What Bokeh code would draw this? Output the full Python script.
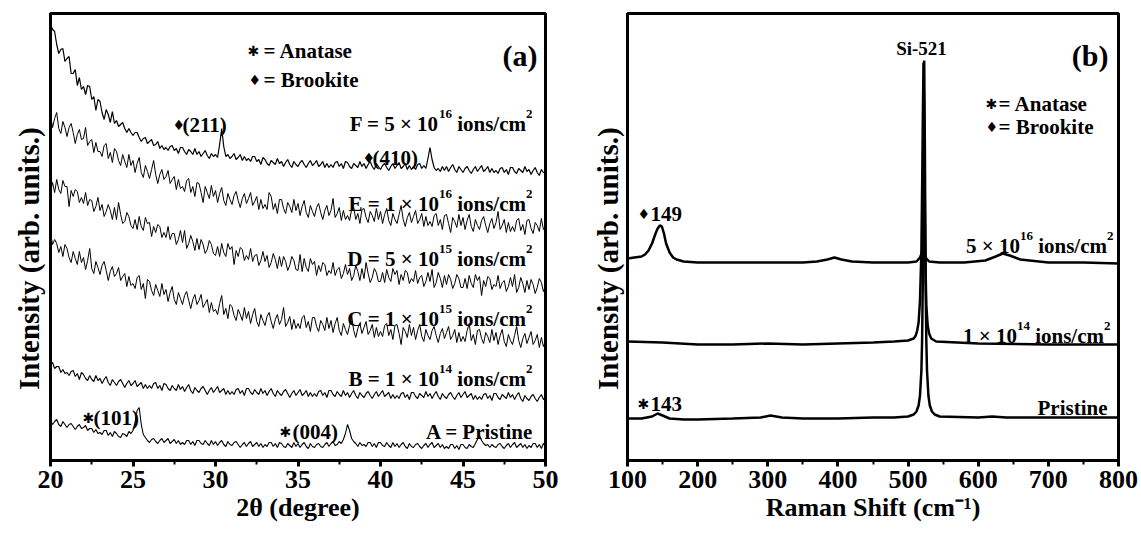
import numpy as np
from bokeh.plotting import figure
from bokeh.layouts import row
from bokeh.models import Label, FixedTicker, Range1d
from bokeh.embed import file_html
from bokeh.resources import INLINE

# ---------------- (a) XRD data : 2theta grid 20..50, step 0.125 (one row per degree) ----------------
two_theta = np.linspace(20, 50, 241)

xrd_F = [436, 431, 429, 416, 407, 411, 412, 399,
         402, 404, 387, 387, 391, 375, 383, 371,
         374, 366, 375, 374, 361, 364, 350, 361,
         359, 348, 341, 351, 346, 338, 349, 337,
         340, 334, 336, 338, 332, 328, 332, 328,
         325, 328, 328, 323, 319, 322, 323, 317,
         319, 321, 315, 316, 319, 312, 315, 311,
         313, 310, 314, 315, 310, 312, 307, 313,
         313, 309, 306, 311, 309, 306, 312, 306,
         309, 304, 307, 310, 305, 302, 307, 304,
         306, 303, 316, 332, 314, 304, 306, 302,
         304, 307, 301, 303, 306, 300, 304, 300,
         302, 299, 304, 304, 299, 301, 296, 303,
         301, 297, 295, 300, 298, 296, 302, 297,
         299, 294, 298, 301, 296, 293, 299, 296,
         294, 298, 300, 296, 293, 297, 300, 295,
         297, 300, 294, 296, 299, 293, 297, 293,
         296, 293, 298, 299, 294, 297, 292, 299,
         298, 294, 292, 297, 295, 293, 299, 294,
         297, 292, 296, 299, 294, 291, 297, 294,
         291, 295, 297, 293, 290, 294, 297, 292,
         295, 298, 292, 294, 297, 291, 295, 291,
         294, 291, 296, 297, 292, 295, 292, 302,
         313, 301, 293, 290, 292, 289, 294, 290,
         294, 289, 293, 296, 291, 288, 294, 291,
         288, 292, 294, 290, 287, 291, 294, 289,
         292, 295, 289, 291, 294, 288, 292, 288,
         290, 287, 292, 293, 288, 291, 286, 293,
         293, 289, 287, 292, 290, 288, 294, 289,
         291, 286, 290, 293, 288, 285, 291, 288,
         288]
xrd_E = [345, 333, 342, 348, 332, 327, 339, 333,
         324, 333, 337, 328, 317, 326, 331, 321,
         322, 333, 315, 319, 321, 308, 318, 309,
         309, 304, 315, 317, 302, 308, 298, 312,
         309, 300, 295, 306, 299, 293, 306, 295,
         300, 288, 297, 303, 288, 283, 295, 289,
         282, 291, 300, 286, 277, 286, 291, 281,
         284, 290, 277, 281, 284, 271, 281, 272,
         274, 269, 280, 282, 268, 274, 264, 278,
         277, 268, 258, 274, 268, 262, 275, 264,
         270, 258, 267, 273, 260, 255, 267, 261,
         256, 265, 269, 260, 253, 262, 267, 257,
         262, 268, 255, 259, 264, 251, 261, 252,
         256, 251, 268, 264, 251, 257, 247, 261,
         261, 252, 247, 258, 254, 248, 261, 250,
         257, 245, 254, 260, 248, 243, 255, 249,
         244, 253, 257, 248, 241, 250, 255, 245,
         250, 262, 243, 247, 253, 240, 250, 241,
         245, 240, 251, 253, 241, 247, 237, 251,
         252, 243, 238, 249, 245, 239, 252, 241,
         249, 237, 246, 252, 240, 235, 247, 241,
         237, 246, 255, 241, 234, 243, 248, 238,
         244, 250, 237, 241, 247, 234, 244, 235,
         239, 234, 245, 247, 235, 241, 231, 245,
         246, 237, 228, 243, 239, 233, 246, 235,
         243, 231, 240, 246, 234, 229, 241, 235,
         231, 240, 244, 235, 228, 237, 242, 232,
         238, 249, 231, 235, 241, 228, 238, 229,
         234, 229, 240, 242, 230, 236, 226, 240,
         241, 232, 227, 238, 235, 229, 242, 231,
         234]
xrd_D = [269, 278, 268, 281, 271, 267, 280, 274,
         274, 254, 270, 264, 271, 269, 258, 263,
         257, 268, 255, 261, 260, 249, 254, 263,
         250, 256, 244, 249, 256, 250, 241, 253,
         241, 258, 246, 237, 239, 248, 244, 235,
         232, 241, 231, 244, 234, 230, 243, 237,
         238, 224, 234, 228, 236, 234, 223, 228,
         223, 234, 221, 227, 227, 216, 221, 230,
         218, 230, 212, 217, 225, 219, 210, 222,
         211, 221, 216, 207, 211, 220, 216, 207,
         205, 214, 204, 217, 208, 204, 217, 211,
         214, 196, 210, 204, 213, 211, 200, 205,
         201, 212, 199, 205, 206, 195, 200, 209,
         199, 205, 193, 198, 207, 201, 192, 204,
         194, 204, 199, 190, 195, 204, 200, 191,
         190, 206, 189, 202, 193, 189, 202, 196,
         199, 185, 195, 189, 198, 196, 185, 190,
         187, 198, 185, 191, 193, 182, 187, 196,
         186, 192, 180, 185, 195, 189, 180, 192,
         182, 198, 187, 178, 183, 192, 188, 179,
         179, 188, 178, 191, 183, 179, 192, 186,
         190, 176, 186, 180, 190, 188, 177, 182,
         179, 190, 177, 183, 185, 174, 179, 188,
         179, 191, 173, 178, 188, 182, 173, 185,
         176, 186, 181, 172, 177, 186, 182, 173,
         173, 182, 172, 185, 177, 173, 186, 180,
         184, 165, 180, 174, 184, 182, 171, 176,
         174, 185, 172, 178, 180, 169, 174, 183,
         174, 186, 168, 173, 183, 177, 168, 180,
         171, 181, 176, 167, 173, 182, 178, 169,
         175]
xrd_C = [227, 216, 221, 217, 208, 214, 204, 216,
         212, 203, 198, 209, 202, 196, 209, 198,
         203, 191, 200, 212, 192, 187, 199, 193,
         186, 195, 199, 190, 180, 189, 194, 184,
         187, 193, 180, 184, 187, 174, 184, 175,
         177, 172, 183, 185, 171, 177, 162, 181,
         179, 170, 165, 176, 170, 164, 177, 166,
         171, 159, 168, 174, 161, 156, 168, 162,
         156, 165, 169, 160, 152, 161, 166, 156,
         160, 166, 153, 157, 161, 148, 158, 149,
         151, 146, 157, 165, 146, 152, 142, 156,
         154, 145, 140, 151, 146, 140, 153, 142,
         149, 137, 146, 152, 139, 134, 146, 140,
         135, 144, 148, 139, 132, 141, 146, 136,
         141, 153, 134, 138, 144, 131, 141, 132,
         137, 132, 143, 145, 133, 139, 129, 143,
         143, 134, 129, 140, 136, 130, 143, 132,
         140, 128, 137, 143, 130, 125, 137, 131,
         126, 135, 145, 130, 123, 132, 137, 127,
         133, 139, 126, 130, 136, 123, 133, 124,
         129, 124, 135, 137, 125, 131, 121, 135,
         136, 127, 116, 133, 129, 123, 136, 125,
         133, 121, 130, 136, 124, 119, 131, 125,
         121, 130, 134, 125, 118, 127, 132, 122,
         128, 134, 121, 125, 131, 118, 128, 119,
         124, 119, 130, 137, 120, 126, 116, 130,
         131, 122, 117, 128, 124, 118, 131, 120,
         128, 116, 125, 131, 119, 114, 126, 120,
         116, 125, 134, 120, 113, 122, 127, 117,
         123, 129, 116, 120, 126, 113, 123, 114,
         120]
xrd_B = [96, 98, 92, 94, 94, 88, 91, 87,
         88, 85, 89, 90, 84, 87, 81, 88,
         86, 82, 80, 85, 81, 79, 85, 80,
         82, 77, 81, 84, 78, 75, 81, 78,
         75, 79, 81, 77, 73, 77, 80, 75,
         77, 80, 74, 76, 78, 72, 76, 72,
         75, 72, 77, 78, 72, 75, 70, 77,
         76, 72, 70, 75, 72, 70, 76, 71,
         74, 69, 73, 76, 70, 67, 73, 70,
         68, 72, 74, 70, 66, 70, 73, 68,
         71, 74, 68, 70, 72, 66, 70, 66,
         69, 66, 71, 72, 67, 70, 65, 72,
         72, 68, 66, 71, 68, 66, 72, 67,
         70, 65, 69, 72, 67, 64, 70, 67,
         65, 69, 71, 67, 63, 67, 70, 65,
         68, 71, 65, 67, 70, 64, 68, 64,
         67, 64, 69, 70, 65, 68, 63, 70,
         70, 66, 64, 69, 66, 64, 70, 65,
         68, 63, 67, 70, 65, 62, 68, 65,
         63, 67, 69, 65, 62, 66, 69, 64,
         67, 70, 64, 66, 68, 62, 66, 62,
         65, 62, 67, 68, 63, 66, 61, 68,
         68, 64, 62, 67, 65, 63, 69, 64,
         67, 62, 66, 69, 64, 61, 67, 64,
         62, 66, 68, 64, 61, 65, 68, 63,
         66, 69, 63, 65, 67, 61, 65, 61,
         64, 61, 66, 67, 62, 65, 60, 67,
         67, 63, 61, 66, 64, 62, 68, 63,
         66, 61, 65, 68, 62, 59, 65, 62,
         60, 64, 66, 62, 59, 63, 66, 61,
         63]
xrd_A = [40, 36, 39, 41, 36, 34, 39, 36,
         33, 36, 37, 34, 31, 34, 36, 32,
         33, 35, 30, 32, 32, 28, 31, 27,
         28, 26, 30, 30, 25, 28, 24, 29,
         27, 24, 23, 27, 26, 24, 29, 27,
         30, 38, 50, 53, 36, 26, 23, 20,
         18, 21, 22, 19, 17, 20, 22, 18,
         20, 22, 17, 19, 21, 17, 20, 16,
         18, 16, 20, 20, 16, 19, 15, 20,
         20, 17, 16, 20, 17, 15, 20, 16,
         19, 15, 18, 20, 16, 14, 19, 16,
         15, 18, 19, 16, 13, 16, 18, 14,
         17, 19, 14, 16, 18, 14, 17, 13,
         16, 14, 18, 18, 14, 17, 13, 18,
         17, 14, 13, 17, 15, 13, 18, 14,
         17, 13, 16, 18, 14, 12, 17, 14,
         13, 16, 17, 14, 13, 16, 18, 14,
         17, 19, 15, 16, 19, 17, 21, 27,
         36, 30, 22, 19, 17, 14, 18, 15,
         16, 14, 18, 18, 14, 17, 13, 18,
         18, 15, 14, 18, 15, 13, 18, 14,
         17, 13, 16, 18, 14, 12, 17, 14,
         13, 16, 17, 14, 12, 15, 17, 13,
         16, 18, 13, 15, 17, 13, 16, 12,
         14, 12, 16, 16, 12, 15, 11, 16,
         16, 13, 12, 16, 14, 13, 17, 21,
         25, 20, 17, 15, 16, 13, 16, 14,
         13, 16, 17, 14, 12, 15, 17, 13,
         16, 18, 13, 15, 17, 13, 16, 12,
         15, 13, 17, 17, 13, 16, 12, 17,
         15]

# ---------------- (b) Raman data ----------------
raman_x_5e16 = [100, 110, 120, 125, 130, 135, 140, 143, 146, 149, 152, 155, 160, 165, 170, 180,
                200, 250, 300, 350, 370, 385, 395, 405, 420, 450, 500, 512, 517, 521, 525, 530,
                545, 580, 610, 625, 635, 645, 660, 700, 750, 800]
raman_y_5e16 = [202, 203, 204, 206, 210, 217, 227, 232, 235, 234, 227, 217, 208, 203, 201, 199,
                198, 198, 198, 198, 199, 201, 203, 201, 199, 198, 198, 199, 203, 210, 203, 199,
                198, 198, 200, 204, 207, 205, 201, 198, 198, 197]
raman_x_1e14 = [100, 150, 200, 250, 300, 350, 400, 450, 480, 500, 508, 511, 513, 515, 517, 519,
                520, 521, 522, 523, 524, 525, 526, 528, 530, 533, 540, 600, 700, 800]
raman_y_1e14 = [119, 118, 116, 116, 117, 116, 117, 118, 119, 120, 122, 125, 130, 138, 160, 210,
                270, 340, 398, 330, 250, 190, 155, 135, 127, 122, 119, 117, 116, 116]
raman_x_pri = [100, 120, 135, 143, 150, 160, 180, 200, 250, 290, 304, 320, 350, 400, 450, 480,
               500, 508, 512, 515, 517, 519, 520, 521, 522, 523, 524, 525, 526, 527, 529, 531,
               534, 538, 545, 600, 620, 640, 700, 750, 800]
raman_y_pri = [42, 42, 44, 47, 45, 42, 41, 41, 42, 43, 45, 43, 42, 42, 43, 43,
               44, 46, 49, 55, 65, 90, 120, 180, 310, 400, 310, 180, 120, 90, 65, 55,
               49, 46, 44, 43, 44, 43, 43, 43, 43]

xrd_ticks = [20, 25, 30, 35, 40, 45, 50]
xrd_minor = [22.5, 27.5, 32.5, 37.5, 42.5, 47.5]
raman_ticks = [100, 200, 300, 400, 500, 600, 700, 800]
raman_minor = [150, 250, 350, 450, 550, 650, 750]

SERIF = "Liberation Serif"
SYM = "DejaVu Sans"
NB = "\u00a0" * 6   # trailing no-break spaces: shift the rotated y label down like in the reference

TB = {' ': 250, '(': 333, ')': 333, '-': 333, '/': 278, '=': 570, '\u00d7': 570,
      'A': 722, 'B': 667, 'C': 722, 'D': 722, 'E': 667, 'F': 611, 'P': 611, 'R': 722, 'S': 556,
      'a': 500, 'b': 556, 'c': 444, 'd': 556, 'e': 444, 'f': 333, 'g': 500, 'h': 556, 'i': 278,
      'k': 556, 'm': 833, 'n': 556, 'o': 500, 'r': 444, 's': 389, 't': 333, 'u': 556}
for _d in "0123456789":
    TB[_d] = 500


def tw(t, size, font=SERIF):
    if font == SYM:
        return len(t) * 0.72 * size
    return sum(TB.get(c, 500) for c in t) * size / 1000.0


def make_fig(xr, ticks, minor, x_label, left_border, right_border, width):
    p = figure(width=width, height=535, output_backend="svg", toolbar_location=None,
               x_range=xr, y_range=Range1d(0, 447),
               min_border_left=left_border, min_border_right=right_border,
               min_border_top=13, min_border_bottom=75)
    p.xgrid.visible = False
    p.ygrid.visible = False
    p.background_fill_color = "white"
    p.border_fill_color = "white"
    p.outline_line_color = "black"
    p.outline_line_width = 3
    xa = p.xaxis[0]
    xa.ticker = FixedTicker(ticks=ticks, minor_ticks=minor)
    xa.axis_line_width = 3
    xa.major_tick_line_width = 3
    xa.major_tick_in = 0
    xa.major_tick_out = 6
    xa.minor_tick_line_width = 2
    xa.minor_tick_in = 0
    xa.minor_tick_out = 4
    xa.major_label_text_font = SERIF
    xa.major_label_text_font_style = "bold"
    xa.major_label_text_font_size = "26px"
    xa.major_label_text_color = "black"
    xa.major_label_standoff = 4
    xa.axis_label = x_label
    xa.axis_label_text_font = SERIF
    xa.axis_label_text_font_style = "bold"
    xa.axis_label_text_font_size = "26px"
    xa.axis_label_text_color = "black"
    xa.axis_label_standoff = 2
    ya = p.yaxis[0]
    ya.ticker = FixedTicker(ticks=[])
    ya.axis_line_width = 3
    ya.major_tick_out = 0
    ya.major_tick_in = 0
    ya.minor_tick_out = 0
    ya.minor_tick_in = 0
    ya.axis_label = "Intensity (arb. units.)" + NB
    ya.axis_label_text_font = SERIF
    ya.axis_label_text_font_style = "bold"
    ya.axis_label_text_font_size = "29px"
    ya.axis_label_text_color = "black"
    ya.axis_label_standoff = 6
    return p


def rich(p, conv, x_px, base_py, pieces, align="left"):
    total = sum(tw(t, s, f) for t, s, r, f in pieces)
    cur = x_px if align == "left" else x_px - total
    for t, s, r, f in pieces:
        lead = len(t) - len(t.lstrip(" "))
        txt = t.strip(" ")
        if txt:
            p.add_layout(Label(x=conv(cur + tw(" " * lead, s, f)), y=460 - base_py + r, text=txt,
                               text_font=f, text_font_size=f"{s}px", text_font_style="bold",
                               text_color="black", text_baseline="alphabetic", text_align="left"))
        cur += tw(t, s, f)


def conv_a(px):
    return 20 + (px - 50) / 16.5


def conv_b(px):
    return 100 + (px - 627) / (491.0 / 700.0)


# ---------------- panel (a) ----------------
pa = make_fig(Range1d(20, 50), xrd_ticks, xrd_minor, "2\u03b8 (degree)", 50, 25, 570)
for ys, lw in [(xrd_F, 1.2), (xrd_E, 1.0), (xrd_D, 1.0), (xrd_C, 1.0), (xrd_B, 1.1), (xrd_A, 1.1)]:
    pa.line(two_theta, ys, line_color="black", line_width=lw)

S, s = 21, 13
rich(pa, conv_a, 247, 50, [("\u2731", 14, 0, SYM)])
rich(pa, conv_a, 263, 50, [("= Anatase", S, 0, SERIF)])
rich(pa, conv_a, 248, 79, [("\u2666", 14, 0, SYM)])
rich(pa, conv_a, 263, 79, [("= Brookite", S, 0, SERIF)])
rich(pa, conv_a, 537, 55, [("(a)", 30, 0, SERIF)], align="right")
rich(pa, conv_a, 172, 124, [("\u2666", 14, 0, SYM)])
rich(pa, conv_a, 182, 124, [("(211)", S, 0, SERIF)])
rich(pa, conv_a, 362, 157, [("\u2666", 14, 0, SYM)])
rich(pa, conv_a, 372, 157, [("(410)", S, 0, SERIF)])
rich(pa, conv_a, 82, 417, [("\u2731", 14, 0, SYM)])
rich(pa, conv_a, 93, 417, [("(101)", S, 0, SERIF)])
rich(pa, conv_a, 279, 431, [("\u2731", 14, 0, SYM)])
rich(pa, conv_a, 292, 431, [("(004)", S, 0, SERIF)])
for txt, sup, base in [("F = 5 \u00d7 10", "16", 123), ("E = 1 \u00d7 10", "16", 203),
                       ("D = 5 \u00d7 10", "15", 258), ("C = 1 \u00d7 10", "15", 318),
                       ("B = 1 \u00d7 10", "14", 378)]:
    rich(pa, conv_a, 532, base, [(txt, S, 0, SERIF), (sup, s, 10, SERIF),
                                 (" ions/cm", S, 0, SERIF), ("2", s, 10, SERIF)], align="right")
rich(pa, conv_a, 533, 431, [("A = Pristine", S, 0, SERIF)], align="right")

# ---------------- panel (b) ----------------
pb = make_fig(Range1d(100, 800), raman_ticks, raman_minor, "Raman Shift (cm\u207b\u00b9)", 57, 23, 571)
pb.yaxis[0].axis_label_standoff = 4
for xs, ys in [(raman_x_5e16, raman_y_5e16), (raman_x_1e14, raman_y_1e14), (raman_x_pri, raman_y_pri)]:
    pb.line(xs, ys, line_color="black", line_width=2.5)

pb.add_layout(Label(x=conv_b(921), y=460 - 48, text="Si-521", text_font=SERIF, text_font_size="19px",
                    text_font_style="bold", text_color="black", text_baseline="alphabetic",
                    text_align="center"))
rich(pb, conv_b, 1108, 55, [("(b)", 30, 0, SERIF)], align="right")
rich(pb, conv_b, 985, 103, [("\u2731", 14, 0, SYM)])
rich(pb, conv_b, 998, 103, [("= Anatase", S, 0, SERIF)])
rich(pb, conv_b, 985, 126, [("\u2666", 14, 0, SYM)])
rich(pb, conv_b, 998, 126, [("= Brookite", S, 0, SERIF)])
rich(pb, conv_b, 637, 213, [("\u2666", 14, 0, SYM)])
rich(pb, conv_b, 650, 213, [("149", S, 0, SERIF)])
rich(pb, conv_b, 637, 403, [("\u2731", 14, 0, SYM)])
rich(pb, conv_b, 650, 403, [("143", S, 0, SERIF)])
rich(pb, conv_b, 1113, 245, [("5 \u00d7 10", S, 0, SERIF), ("16", s, 10, SERIF),
                              (" ions/cm", S, 0, SERIF), ("2", s, 10, SERIF)], align="right")
rich(pb, conv_b, 1110, 335, [("1 \u00d7 10", S, 0, SERIF), ("14", s, 10, SERIF),
                              (" ions/cm", S, 0, SERIF), ("2", s, 10, SERIF)], align="right")
rich(pb, conv_b, 1107, 407, [("Pristine", S, 0, SERIF)], align="right")

layout = row(pa, pb)
open("out.html", "w").write(file_html(layout, INLINE))
